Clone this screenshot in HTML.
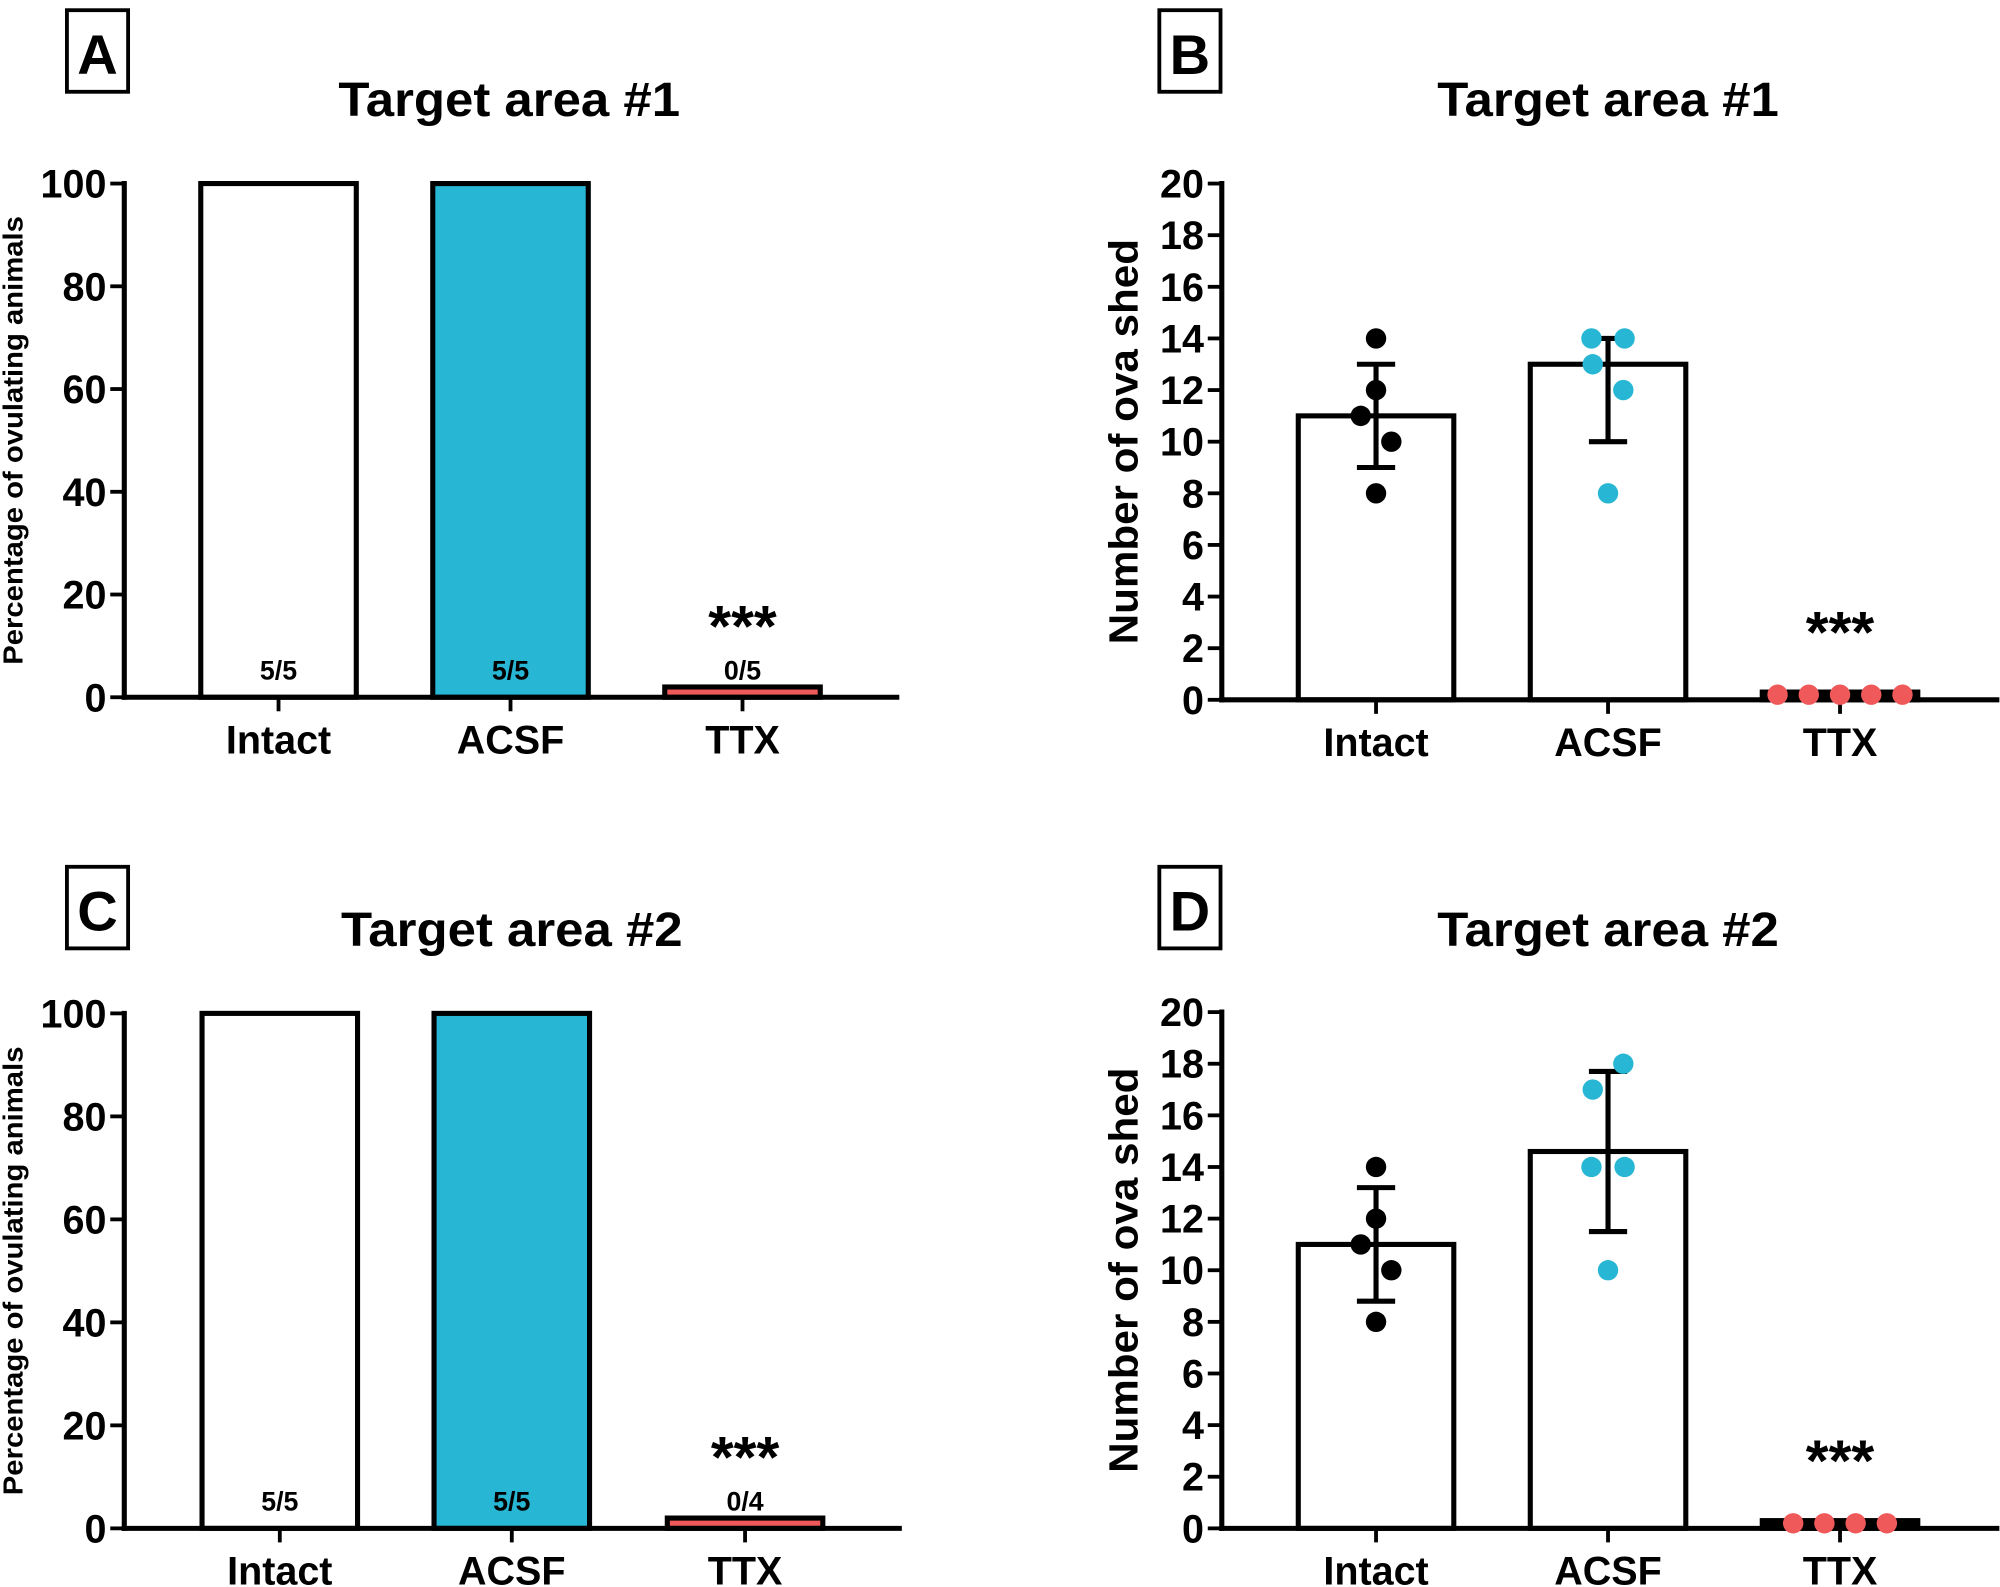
<!DOCTYPE html>
<html><head><meta charset="utf-8"><style>
html,body{margin:0;padding:0;background:#fff}
svg{display:block}
text{font-family:"Liberation Sans",Arial,sans-serif;font-weight:bold;fill:#000}
</style></head><body>
<svg id="fig" width="2000" height="1587" viewBox="0 0 1568 1245"></svg>
<script>
const categories = ["Intact","ACSF","TTX"];
const pctA = [100,100,2];
const pctC = [100,100,2];
const fracA = ["5/5","5/5","0/5"];
const fracC = ["5/5","5/5","0/4"];
const ovaMeanB = [11,13,0.3];
const ovaErrLoB = [9,10,0];
const ovaErrHiB = [13,14,0];
const ovaPtsIntactB = [14,12,11,10,8];
const ovaPtsAcsfB = [14,14,13,12,8];
const ovaPtsTtxB = [0,0,0,0,0];
const ovaMeanD = [11,14.6,0.3];
const ovaErrLoD = [8.8,11.5,0];
const ovaErrHiD = [13.2,17.7,0];
const ovaPtsIntactD = [14,12,11,10,8];
const ovaPtsAcsfD = [18,17,14,14,10];
const ovaPtsTtxD = [0,0,0,0];
const ticksPct = [0,20,40,60,80,100];
const ticksOva = [0,2,4,6,8,10,12,14,16,18,20];

const NS="http://www.w3.org/2000/svg";
const svg=document.getElementById('fig');
const dotCols=["#000000","#27b6d3","#f0595a"];
function mk(tag,attrs,parent){const e=document.createElementNS(NS,tag);for(const k in attrs)e.setAttribute(k,attrs[k]);(parent||svg).appendChild(e);return e;}

function panel(o){
  const g=mk('g',{});
  
  
  const y=v=>o.y0-(v-o.min)/(o.max-o.min)*(o.y0-o.ytop);
  const box=mk('rect',{x:o.bx,y:o.by,width:48,height:64,fill:'none',stroke:'#000','stroke-width':3},g);
  
  
  const lt=mk('text',{x:o.bx+24,y:o.by+50,'text-anchor':'middle','font-size':44},g);lt.textContent=o.letter;
  
  
  const tt=mk('text',{x:o.tx,y:o.ty,'text-anchor':'middle','font-size':38,textLength:268,lengthAdjust:'spacingAndGlyphs'},g);tt.textContent=o.title;
  
  
  const yc=(o.y0+o.ytop)/2;
  const yt=mk('text',{x:o.ytx,y:yc,'text-anchor':'middle','font-size':o.ytfs,textLength:o.ytlen,lengthAdjust:'spacingAndGlyphs',transform:`rotate(-90 ${o.ytx} ${yc})`},g);
  yt.textContent=o.ytitle;
  
  
  o.vals.forEach((v,i)=>{
    const cx=o.xs[i];
    const top=y(v);
    const r=mk('rect',{x:cx-61,y:top,width:122,height:o.y0-top,fill:o.fills[i],stroke:'#000','stroke-width':4},g);
    
    
    if(o.frac){
      const f=mk('text',{x:cx,y:o.y0-14,'text-anchor':'middle','font-size':21},g);f.textContent=o.frac[i];
      
      
    }
  });
  const ya=mk('line',{x1:o.ax,y1:o.ytop-2,x2:o.ax,y2:o.y0+2,stroke:'#000','stroke-width':4},g);
  
  
  const xa=mk('line',{x1:o.ax-2,y1:o.y0,x2:o.xend,y2:o.y0,stroke:'#000','stroke-width':4},g);
  
  
  o.ticks.forEach(t=>{
    mk('line',{x1:o.ax-11,y1:y(t),x2:o.ax,y2:y(t),stroke:'#000','stroke-width':3},g);
    const tl=mk('text',{x:o.ax-14,y:y(t)+11,'text-anchor':'end','font-size':31},g);tl.textContent=t;
    
    
  });
  categories.forEach((c,i)=>{
    mk('line',{x1:o.xs[i],y1:o.y0,x2:o.xs[i],y2:o.y0+11,stroke:'#000','stroke-width':3},g);
    const cl=mk('text',{x:o.xs[i],y:o.y0+44,'text-anchor':'middle','font-size':31},g);cl.textContent=c;
    
    
  });
  if(o.lo){
    o.lo.forEach((lo,i)=>{
      const hi=o.hi[i]; if(hi===lo)return;
      const cx=o.xs[i];
      mk('line',{x1:cx,y1:y(lo),x2:cx,y2:y(hi),stroke:'#000','stroke-width':4},g);
      mk('line',{x1:cx-15,y1:y(lo),x2:cx+15,y2:y(lo),stroke:'#000','stroke-width':4},g);
      mk('line',{x1:cx-15,y1:y(hi),x2:cx+15,y2:y(hi),stroke:'#000','stroke-width':4},g);
    });
  }
  if(o.pts){
    o.pts.forEach((arr,i)=>{
      const cx=o.xs[i];
      const counts={};
      arr.forEach((v,j)=>{
        let dx;
        if(i===2){dx=(j-(arr.length-1)/2)*24.5;}
        else{
          const same=arr.filter(w=>w===v).length;
          counts[v]=(counts[v]||0)+1;
          if(same===2) dx=counts[v]===1?-13:13;
          else dx=o.jit[i][j];
        }
        const c=mk('circle',{cx:cx+dx,cy:y(v)-(i===2?4:0),r:8,fill:dotCols[i]},g);
        
        
      });
    });
  }
  const st=mk('text',{x:o.xs[2],y:o.stary,'text-anchor':'middle','font-size':46},g);st.textContent='***';
  
  
}

const pctFills=["#ffffff","#27b6d3","#f0595a"];
const ovaFills=["#ffffff","#ffffff","#000000"];
panel({name:'panel-a',letter:'A',bx:52,by:8,title:'Target area #1',tx:399,ty:91,ytitle:'Percentage of ovulating animals',ytx:17,ytfs:22,ytlen:352,
  ax:97,y0:547,ytop:144,min:0,max:100,xend:705,xs:[218,400,582],vals:pctA,fills:pctFills,frac:fracA,ticks:ticksPct,stary:507});
panel({name:'panel-b',letter:'B',bx:909,by:8,title:'Target area #1',tx:1261,ty:91,ytitle:'Number of ova shed',ytx:892,ytfs:32,ytlen:318,
  ax:958,y0:549,ytop:144,min:0,max:20,xend:1568,xs:[1079,1261,1443],vals:ovaMeanB,fills:ovaFills,lo:ovaErrLoB,hi:ovaErrHiB,ticks:ticksOva,
  pts:[ovaPtsIntactB,ovaPtsAcsfB,ovaPtsTtxB],jit:[[0,0,-12,12,0],[0,0,-12,12,0]],stary:512});
panel({name:'panel-c',letter:'C',bx:52,by:680,title:'Target area #2',tx:401,ty:742,ytitle:'Percentage of ovulating animals',ytx:17,ytfs:22,ytlen:352,
  ax:97,y0:1199,ytop:795,min:0,max:100,xend:707,xs:[219,401,584],vals:pctC,fills:pctFills,frac:fracC,ticks:ticksPct,stary:1159});
panel({name:'panel-d',letter:'D',bx:909,by:680,title:'Target area #2',tx:1261,ty:742,ytitle:'Number of ova shed',ytx:892,ytfs:32,ytlen:318,
  ax:958,y0:1199,ytop:794,min:0,max:20,xend:1568,xs:[1079,1261,1443],vals:ovaMeanD,fills:ovaFills,lo:ovaErrLoD,hi:ovaErrHiD,ticks:ticksOva,
  pts:[ovaPtsIntactD,ovaPtsAcsfD,ovaPtsTtxD],jit:[[0,0,-12,12,0],[12,-12,0,0,0]],stary:1162});
</script>
</body></html>
